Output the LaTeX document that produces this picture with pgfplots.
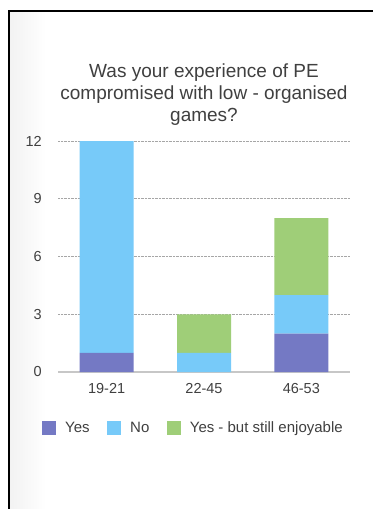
\documentclass[border=0pt]{standalone}
\usepackage{pgfplots}
\pgfplotsset{compat=1.18}
\usepackage{fontspec}
\setmainfont{Liberation Sans}
\definecolor{yescol}{HTML}{7479C4}
\definecolor{nocol}{HTML}{77CAF9}
\definecolor{encol}{HTML}{9FCE78}
\definecolor{txt}{HTML}{404040}
\begin{document}
\begin{tikzpicture}
\useasboundingbox (0pt,0pt) rectangle (373pt,-509pt);
\fill[white] (0pt,0pt) rectangle (373pt,-509pt);
\shade[left color=black!5, right color=white] (10pt,-12pt) rectangle (46pt,-509pt);
\draw[black, line width=2pt] (9pt,-509pt) -- (9pt,-11pt) -- (373pt,-11pt);
\node[font=\fontsize{19}{22}\selectfont, text=txt, anchor=base] at (204pt,-77pt) {Was your experience of PE};
\node[font=\fontsize{19}{22}\selectfont, text=txt, anchor=base] at (204pt,-99pt) {compromised with low - organised};
\node[font=\fontsize{19}{22}\selectfont, text=txt, anchor=base] at (204pt,-121pt) {games?};
\begin{axis}[
  at={(58pt,-372pt)}, anchor=south west,
  scale only axis, width=292pt, height=231pt,
  ybar stacked, bar width=54pt,
  xmin=-0.5, xmax=2.5, ymin=0, ymax=12,
  xtick=data, xticklabels={19-21,22-45,46-53},
  ytick={0,3,6,9,12},
  major tick length=0pt,
  axis line style={draw=none},
  ymajorgrids, grid style={densely dotted, black!35, line width=0.6pt},
  extra y ticks={0}, extra y tick labels={},
  extra y tick style={grid style={solid, black!22, line width=1.2pt}},
  /pgf/number format/assume math mode=true,
  tick label style={font=\fontsize{14.5}{16}\selectfont, text=txt},
  yticklabel style={anchor=east, inner sep=0pt, xshift=-16pt},
  xticklabel style={anchor=north, inner sep=0pt, yshift=-11pt},
  clip=false,
  legend columns=3,
  legend style={draw=none, fill=none, at={(-0.065,-0.243)}, anchor=west,
    font=\fontsize{15}{17}\selectfont, text=txt,
    /tikz/every even column/.append style={column sep=17.5pt},
    nodes={inner sep=0pt}},
  legend image code/.code={\fill[#1] (0pt,-7pt) rectangle (14pt,7pt);},
]
\addplot[fill=yescol, draw=none] coordinates {(0,1) (1,0) (2,2)};
\addplot[fill=nocol, draw=none] coordinates {(0,11) (1,1) (2,2)};
\addplot[fill=encol, draw=none] coordinates {(0,0) (1,2) (2,4)};
\legend{\hspace{9pt}Yes,\hspace{9pt}No,\hspace{9pt}Yes - but still enjoyable}
\end{axis}
\end{tikzpicture}
\end{document}
